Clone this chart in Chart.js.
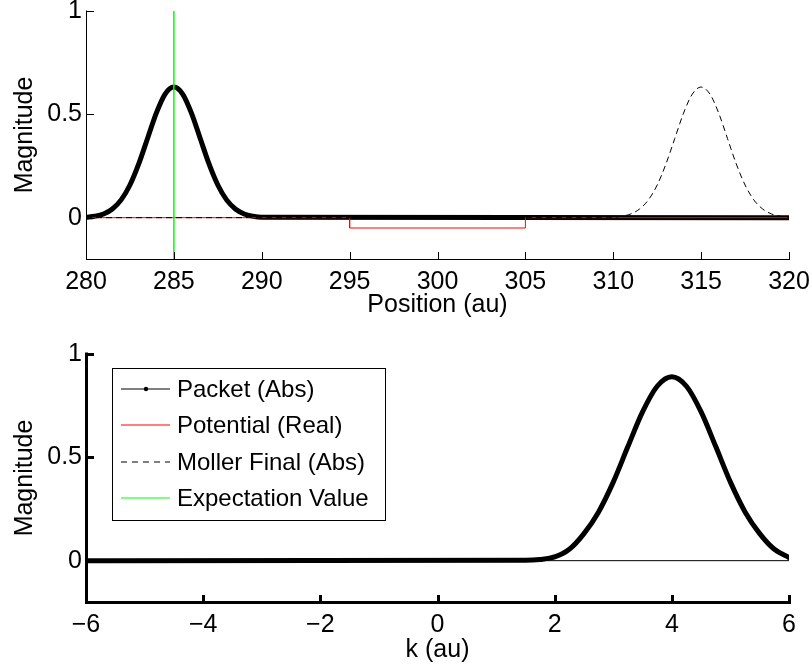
<!DOCTYPE html>
<html>
<head>
<meta charset="utf-8">
<title>Wave packet scattering</title>
<script src="https://cdn.jsdelivr.net/npm/chart.js@4.4.1/dist/chart.umd.min.js"></script>
<style>
  html, body { margin: 0; padding: 0; background: #fff; }
  #figure { position: relative; width: 812px; height: 665px; }
  #figure canvas { position: absolute; left: 0; }
  #positionChart { top: 0; }
  #momentumChart { top: 332px; }
</style>
</head>
<body>
<div id="figure">
  <canvas id="positionChart" width="812" height="332"></canvas>
  <canvas id="momentumChart" width="812" height="333"></canvas>
</div>
<script>
// Position space (au)
const packetX = [280, 280.5, 281, 281.5, 282, 282.5, 283, 283.5, 284, 284.5, 285,
                 285.5, 286, 286.5, 287, 287.5, 288, 288.5, 289, 289.5, 290, 320];
const packetAbs = [0.002, 0.007, 0.018, 0.042, 0.086, 0.158, 0.260, 0.383, 0.506, 0.598, 0.632,
                   0.598, 0.506, 0.383, 0.260, 0.158, 0.086, 0.042, 0.018, 0.007, 0.002, 0];

const potentialX = [280, 295, 295, 305, 305, 320];
const potentialReal = [0, 0, -0.05, -0.05, 0, 0];

const mollerX = [280, 310, 310.5, 311, 311.5, 312, 312.5, 313, 313.5, 314, 314.5, 315,
                 315.5, 316, 316.5, 317, 317.5, 318, 318.5, 319, 319.5, 320];
const mollerAbs = [0, 0.002, 0.007, 0.018, 0.042, 0.086, 0.158, 0.260, 0.383, 0.506, 0.598, 0.632,
                   0.598, 0.506, 0.383, 0.260, 0.158, 0.086, 0.042, 0.018, 0.007, 0.002];

const expectationX = [285, 285];
const expectationY = [-0.2, 1];

// Momentum space (au)
const kX = [-6, 1.5, 1.75, 2, 2.25, 2.5, 2.75, 3, 3.25, 3.5, 3.75, 4,
            4.25, 4.5, 4.75, 5, 5.25, 5.5, 5.75, 6];
const kPacketAbs = [0, 0.002, 0.006, 0.018, 0.055, 0.131, 0.236, 0.380, 0.552, 0.720, 0.844, 0.890,
                    0.844, 0.720, 0.552, 0.380, 0.236, 0.131, 0.055, 0.015];
const kBaseX = [-6, 6];
const kBaseY = [0, 0];

// Ticks and labels
const posTicks = [280, 285, 290, 295, 300, 305, 310, 315, 320];
const kTicks = [-6, -4, -2, 0, 2, 4, 6];
const magTicks = [0, 0.5, 1];
const legendLabels = ['Packet (Abs)', 'Potential (Real)', 'Moller Final (Abs)', 'Expectation Value'];

const FONT = "'Liberation Sans', Arial, Helvetica, sans-serif";
Chart.defaults.font.family = FONT;
Chart.defaults.font.size = 25;
Chart.defaults.color = '#000';

const xy = (xs, ys) => xs.map((x, i) => ({ x, y: ys[i] }));
const fmt = v => (v < 0 ? '\u2212' + Math.abs(v) : String(v));

// box-off axes with inward ticks
const matlabAxes = {
  id: 'matlabAxes',
  afterDatasetsDraw(chart, args, opts) {
    const { ctx, chartArea: a, scales: { x, y } } = chart;
    const w = opts.lineWidth, len = opts.tickLength;
    const off = w % 2 ? 0.5 : 0;
    const left = Math.round(a.left) + off;
    const bottom = Math.round(a.bottom) + off;
    ctx.save();
    ctx.strokeStyle = '#000';
    ctx.lineWidth = w;
    ctx.lineCap = 'square';
    ctx.beginPath();
    ctx.moveTo(left, Math.round(a.top));
    ctx.lineTo(left, bottom);
    ctx.lineTo(Math.round(a.right), bottom);
    x.ticks.forEach(t => {
      const px = Math.round(x.getPixelForValue(t.value)) + off;
      ctx.moveTo(px, bottom);
      ctx.lineTo(px, bottom - len);
    });
    y.ticks.forEach(t => {
      const py = Math.round(y.getPixelForValue(t.value)) + off;
      ctx.moveTo(left, py);
      ctx.lineTo(left + len, py);
    });
    ctx.stroke();
    ctx.restore();
  }
};

// legend box inside the momentum axes
const legendInset = {
  id: 'legendInset',
  afterDraw(chart, args, opts) {
    const { ctx, chartArea: a } = chart;
    const bx = Math.round(a.left) + 26, by = Math.round(a.top) + 14;
    const bw = 273, bh = 152;
    ctx.save();
    ctx.fillStyle = '#fff';
    ctx.fillRect(bx, by, bw, bh);
    ctx.strokeStyle = '#000';
    ctx.lineWidth = 1;
    ctx.strokeRect(bx + 0.5, by + 0.5, bw, bh);
    ctx.font = '24px ' + FONT;
    ctx.textBaseline = 'middle';
    opts.items.forEach((item, i) => {
      const ry = by + 21 + Math.round(i * 36.4);
      ctx.strokeStyle = item.color;
      ctx.lineWidth = 1;
      ctx.setLineDash(item.dash || []);
      ctx.beginPath();
      ctx.moveTo(bx + 9, ry);
      ctx.lineTo(bx + 58, ry);
      ctx.stroke();
      ctx.setLineDash([]);
      if (item.marker) {
        ctx.fillStyle = item.color;
        ctx.beginPath();
        ctx.arc(bx + 34, ry, 2.2, 0, Math.PI * 2);
        ctx.fill();
      }
      ctx.fillStyle = '#000';
      ctx.fillText(item.text, bx + 65, ry + 1);
    });
    ctx.restore();
  }
};

function axes(xTicks, xMin, xMax, xTitle, xHeight, xTickPad, xTitlePad) {
  return {
    x: {
      type: 'linear', min: xMin, max: xMax,
      grid: { display: false, drawTicks: false },
      border: { display: false },
      afterBuildTicks: s => { s.ticks = xTicks.map(v => ({ value: v })); },
      ticks: { padding: xTickPad, maxRotation: 0, autoSkip: false, callback: v => fmt(v) },
      title: { display: true, text: xTitle, padding: { top: 0, bottom: xTitlePad } },
      afterFit: s => { s.height = xHeight; s.paddingLeft = 0; s.paddingRight = 0; }
    },
    y: {
      type: 'linear', min: -0.2, max: 1,
      grid: { display: false, drawTicks: false },
      border: { display: false },
      afterBuildTicks: s => { s.ticks = magTicks.map(v => ({ value: v })); },
      ticks: { padding: 4, callback: v => fmt(v) },
      title: { display: true, text: 'Magnitude', padding: { top: 10, bottom: 0 } },
      afterFit: s => { s.width = 86; s.paddingTop = 0; s.paddingBottom = 0; }
    }
  };
}

const common = {
  responsive: false,
  animation: false,
  devicePixelRatio: 1,
  elements: { point: { radius: 0, hoverRadius: 0 } },
  events: []
};

new Chart(document.getElementById('positionChart'), {
  type: 'line',
  data: {
    datasets: [
      {
        label: legendLabels[0], order: 4,
        data: xy(packetX, packetAbs),
        borderColor: '#000', borderWidth: 5,
        cubicInterpolationMode: 'monotone',
        borderJoinStyle: 'round', borderCapStyle: 'round'
      },
      {
        label: legendLabels[1], order: 3,
        data: xy(potentialX, potentialReal),
        borderColor: '#ff0000', borderWidth: 1
      },
      {
        label: legendLabels[2], order: 2,
        data: xy(mollerX, mollerAbs),
        borderColor: '#000', borderWidth: 1, borderDash: [6, 4],
        cubicInterpolationMode: 'monotone'
      },
      {
        label: legendLabels[3], order: 1,
        data: xy(expectationX, expectationY),
        borderColor: '#00ff00', borderWidth: 1.5
      }
    ]
  },
  options: {
    ...common,
    layout: { padding: { top: 11, right: 23, left: 0, bottom: 0 } },
    scales: axes(posTicks, 280, 320, 'Position (au)', 73, 8, 12),
    plugins: {
      legend: { display: false },
      tooltip: { enabled: false },
      matlabAxes: { lineWidth: 1, tickLength: 7 }
    }
  },
  plugins: [matlabAxes]
});

new Chart(document.getElementById('momentumChart'), {
  type: 'line',
  data: {
    datasets: [
      {
        label: legendLabels[0], order: 2,
        data: xy(kX, kPacketAbs),
        borderColor: '#000', borderWidth: 5,
        cubicInterpolationMode: 'monotone',
        borderJoinStyle: 'round', borderCapStyle: 'round'
      },
      {
        label: 'baseline', order: 1,
        data: xy(kBaseX, kBaseY),
        borderColor: '#000', borderWidth: 1
      }
    ]
  },
  options: {
    ...common,
    layout: { padding: { top: 22, right: 23, left: 0, bottom: 0 } },
    scales: axes(kTicks, -6, 6, 'k (au)', 63, 8, 0),
    plugins: {
      legend: { display: false },
      tooltip: { enabled: false },
      matlabAxes: { lineWidth: 3, tickLength: 6 },
      legendInset: {
        items: [
          { text: legendLabels[0], color: '#000', marker: true },
          { text: legendLabels[1], color: '#ff0000' },
          { text: legendLabels[2], color: '#000', dash: [6, 5] },
          { text: legendLabels[3], color: '#00ff00' }
        ]
      }
    }
  },
  plugins: [matlabAxes, legendInset]
});
</script>
</body>
</html>
